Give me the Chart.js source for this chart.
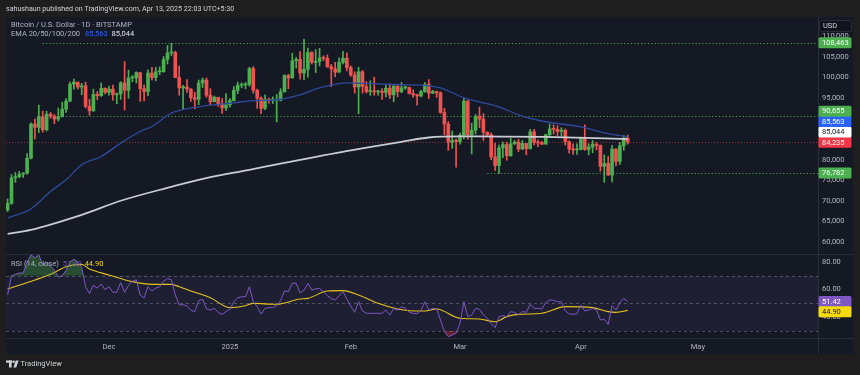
<!DOCTYPE html>
<html><head><meta charset="utf-8">
<script src="https://cdn.jsdelivr.net/npm/chart.js@4.4.1/dist/chart.umd.min.js"></script>
<style>html,body{margin:0;padding:0;background:#1e1e1e;overflow:hidden}canvas{display:block}</style>
</head><body>
<canvas id="c" width="860" height="375"></canvas>
<script>
// ---------- DATA ----------
const startDate = '2024-11-05';   // first daily candle
const opens = [67800,69400,75600,75900,76500,76700,80400,88700,87900,90500,
 87300,91100,90600,89900,90500,92300,94300,98400,98900,97700,
 98000,93000,91900,95900,95600,97400,96400,97200,95800,96000,
 98700,96900,99900,99900,101200,97300,96600,101100,100000,101400,
 101400,104400,106000,106100,100000,97500,97700,97200,95100,94700,
 98700,99400,95700,94100,95200,93600,92600,93400,94400,96900,
 98100,98200,98300,102200,96900,95000,92500,94700,94500,94500,
 94500,96500,100500,99900,104100,104400,101100,102000,106100,103700,
 103900,104800,104700,102600,102100,101300,103700,104700,102400,100600,
 97700,101400,97800,96600,96600,96500,96500,96400,97400,95800,
 97900,96600,97500,97600,96100,95800,95500,96600,98300,96200,
 96600,96300,91500,88700,84300,84700,84400,86000,94300,86100,
 87200,90600,89900,86700,86100,80700,78600,82900,83700,81000,
 83900,84300,82600,84000,82700,86800,84200,84100,83800,86100,
 87500,87400,86900,87200,84400,82600,82400,82500,85100,82500,
 83100,83800,83500,78400,79100,76300,82600,79600,83400,85300];
const highs = [70500,76400,76900,77200,76900,81500,89000,89900,93300,91800,
 91800,91500,91000,92600,94000,94900,98900,99600,98800,98600,
 98900,94700,97200,96600,98700,97500,97900,98200,96300,99000,
 103900,101800,100500,101400,101300,98200,101900,102500,102500,102600,
 105100,107800,108300,106400,102800,98100,99500,97300,96400,99400,
 99900,99900,97300,95500,95200,94900,96100,94900,97800,98900,
 98700,98800,102500,102700,97200,95300,95800,95000,95300,95900,
 97300,100700,100800,105900,104900,106300,109300,107200,106300,106800,
 107100,105300,105500,103200,103700,104800,106400,106000,102800,101400,
 102500,101700,99000,99200,100100,96900,97300,98300,98500,98100,
 98100,98800,97900,97700,97000,96000,96900,98800,99500,96900,
 96700,96500,92500,89300,87000,85100,86500,95000,94400,88900,
 91000,92800,91200,86800,86500,84000,83600,84300,84300,85200,
 84700,85000,84700,83900,87400,87400,84800,84500,86200,88700,
 88500,88300,87800,87500,84600,83900,83900,85500,88500,83900,
 84700,84200,83600,81200,80800,83500,82700,84200,85900,86000];
const lows = [67400,69200,74500,75600,75700,76500,80200,85100,86600,86700,
 87000,90100,88800,89400,90400,91500,94100,97200,97200,95800,
 92600,90800,91800,94600,95400,96000,95700,94500,93600,94700,
 92100,95000,99000,98700,94200,94300,95600,99400,99200,100700,
 101300,103300,105300,100000,95700,92200,96400,94200,92400,93400,
 97600,95200,93400,94100,93000,91300,92000,92800,94300,96100,
 97500,97300,97900,96200,92500,91200,92200,93800,93700,89200,
 94300,96500,97300,99900,102300,99600,99500,100100,103300,101200,
 102800,104100,102500,97800,100200,101300,103300,101600,100300,96200,
 91200,96200,96200,95700,95700,95700,94700,95300,94900,94100,
 95300,96300,97100,96000,95200,93300,95300,96400,94900,96100,
 95200,91300,86100,82300,82800,78200,83800,85100,85000,81400,
 86300,87800,84700,85700,80000,77400,76600,80500,79900,80800,
 83700,82000,82500,81200,82600,83600,83200,83700,83800,85500,
 86300,85900,85800,83600,81600,81300,81300,82400,82300,81200,
 81700,82400,77200,74500,76200,74600,78500,78900,82300,83800];
const closes = [69400,75600,75900,76500,76700,80400,88700,87900,90500,87300,
 91100,90600,89900,90500,92300,94300,98400,98900,97700,98000,
 93000,91900,95900,95600,97400,96400,97200,95800,96000,98700,
 96900,99900,99900,101200,97300,96600,101100,100000,101400,101400,
 104400,106000,106100,100000,97500,97700,97200,95100,94700,98700,
 99400,95700,94100,95200,93600,92600,93400,94400,96900,98100,
 98200,98300,102200,96900,95000,92500,94700,94500,94500,94500,
 96500,100500,99900,104100,104400,101100,102000,106100,103700,103900,
 104800,104700,102600,102100,101300,103700,104700,102400,100600,97700,
 101400,97800,96600,96600,96500,96500,96400,97400,95800,97900,
 96600,97500,97600,96100,95800,95500,96600,98300,96200,96600,
 96300,91500,88700,84300,84700,84400,86000,94300,86100,87200,
 90600,89900,86700,86100,80700,78600,82900,83700,81000,83900,
 84300,82600,84000,82700,86800,84200,84100,83800,86100,87500,
 87400,86900,87200,84400,82600,82400,82500,85100,82500,83100,
 83800,83500,78400,79100,76300,82600,79600,83400,85300,84235];

// EMA 50 (blue) and EMA 200 (white): day index -> value
const ema50Days = [0,6,11,15,19,24,29,34,37,42,49,58,62,69,75,80,87,94,101,108,111,117,121,126,131,138,147,153,159];
const ema50 = [65800,68080,72290,75130,78780,80800,84060,86880,88100,91350,92890,93860,94350,94600,95810,97510,98730,98490,98250,98000,97510,95080,94110,92890,90950,89250,88030,86570,85563];
const ema200Days = [0,6,19,29,42,49,62,75,88,101,108,116,127,138,148,159];
const ema200 = [62000,62970,66620,70030,73430,75140,77570,80000,82310,84380,85420,85670,85650,85550,85350,85044];

// RSI (14, close), one value per candle
const rsi = [56,70,71,72,72,80,85,83,85,78,
 80,77,74,69,70,74,80,82,80,76,
 62,57,63,61,64,60,62,58,58,65,
 58,63,66,67,56,54,62,59,61,62,
 66,68,67,56,49,49,48,45,44,52,
 53,46,45.2,46.4,43.5,42,44,45.7,51.2,54,
 54.8,54.8,62,51.2,47.6,42.3,46.4,46.9,46.9,48.3,
 52,59,58.5,64.5,64.5,57.5,59.5,64.5,59.6,60.5,
 60.8,58.5,55.5,53.5,52.4,55.5,58.4,53,48,43.5,
 51.2,44.5,42.8,42.8,42.8,42.8,42.8,45.2,41.6,46.4,
 45,47.6,46.5,43.5,42.8,42.5,45,51.2,45.2,46.4,
 45.9,38,29.5,25.9,27.1,28.3,35.5,51.2,40.4,41.6,
 46.4,45.7,41.6,39.2,35.5,32.4,40.4,41.1,40.4,44,
 43.5,41.6,44,43.5,49.3,46.4,46.4,45.9,50.7,52.4,
 52.2,51.2,51.2,44.5,42.5,42,42.5,48.8,44.5,45.2,
 46.4,45.2,38,38.4,34.8,48.3,45.2,50.7,53.6,51.42];
// RSI-based moving average (yellow): day index -> value
const rsiMaDays = [0,7,11,15,19,21,26,32,37,42,44,48,52,57,61,63,69,75,77,82,86,90,95,100,103,107,110,116,121,125,128,131,137,143,150,154,156,159];
const rsiMa = [60.4,66.9,71,76.5,78.2,74.8,70.5,65.7,63.7,63.7,62,58,54.1,46.9,48.3,50,49.3,53.1,53.6,58.9,59.2,56,50,45.9,44.7,44.5,45.9,39.2,38.7,36.7,40.4,42,42.8,47.6,46.9,44,43.5,44.9];

// axis ticks
const timeTickDates = ['2024-12-01','2025-01-01','2025-02-01','2025-03-01','2025-04-01','2025-05-01'];
const timeTickLabels = ['Dec','2025','Feb','Mar','Apr','May'];
const priceTicks = [60000,65000,70000,75000,80000,85000,90000,95000,100000,105000,110000];
const rsiTicks = [40,60,80];

// drawn horizontal levels (value, drawn from date)
const levelValues = [108463, 90655, 76782];
const levelFromDates = ['2024-11-14','2024-11-20','2025-03-08'];

const lastClose = 84235, lastEma50 = 85563, lastEma200 = 85044, lastRsi = 51.42, lastRsiMa = 44.90;

// ---------- CHART ----------
const UP = '#4caf50', DOWN = '#ef5350';
const FONT = 'Roboto, "Liberation Sans", sans-serif';
const dayIndex = d => Math.round((Date.parse(d + 'T00:00:00Z') - Date.parse(startDate + 'T00:00:00Z')) / 86400000);
const fmt = v => v.toLocaleString('en-US');

const candleColors = closes.map((c, i) => c >= opens[i] ? UP : DOWN);
const bodyData = closes.map((c, i) => ({x: i, y: [opens[i], c]}));
const wickData = closes.map((c, i) => ({x: i, y: [lows[i], highs[i]]}));
const pts = (days, vals) => days.map((d, i) => ({x: d, y: vals[i]}));
const rsiData = rsi.map((v, i) => ({x: i, y: v}));

function roundRect(ctx, x, y, w, h, r) {
  ctx.beginPath();
  ctx.moveTo(x + r, y); ctx.lineTo(x + w - r, y); ctx.quadraticCurveTo(x + w, y, x + w, y + r);
  ctx.lineTo(x + w, y + h - r); ctx.quadraticCurveTo(x + w, y + h, x + w - r, y + h);
  ctx.lineTo(x + r, y + h); ctx.quadraticCurveTo(x, y + h, x, y + h - r);
  ctx.lineTo(x, y + r); ctx.quadraticCurveTo(x, y, x + r, y); ctx.closePath();
}

function placeLabels(items, scale, gap, dir) {
  items.forEach(it => it.py = scale.getPixelForValue(it.value));
  items.sort((a, b) => dir === 'up' ? b.py - a.py : a.py - b.py);
  let prev = null;
  items.forEach(it => {
    let y = it.py;
    if (prev !== null) y = dir === 'up' ? Math.min(y, prev - gap) : Math.max(y, prev + gap);
    it.y = y; prev = y;
  });
  return items;
}

const decor = {
  id: 'decor',
  beforeDraw(chart) {
    const ctx = chart.ctx;
    ctx.save();
    ctx.fillStyle = '#1e1e1e';
    ctx.fillRect(0, 0, chart.width, chart.height);
    ctx.fillStyle = '#151924';
    ctx.fillRect(6, 17, 847, 337);
    ctx.restore();
  },
  beforeDatasetsDraw(chart) {
    const ctx = chart.ctx, a = chart.chartArea;
    const yP = chart.scales.y, yR = chart.scales.yR, x = chart.scales.x;
    ctx.save();
    // RSI band
    const y70 = yR.getPixelForValue(70), y30 = yR.getPixelForValue(30), y50 = yR.getPixelForValue(50);
    ctx.fillStyle = 'rgba(126,87,194,0.10)';
    ctx.fillRect(a.left, y70, a.right - a.left, y30 - y70);
    ctx.strokeStyle = 'rgba(120,123,134,0.55)';
    ctx.lineWidth = 1;
    ctx.setLineDash([3, 3]);
    [y70, y50, y30].forEach(y => { ctx.beginPath(); ctx.moveTo(a.left, Math.round(y) + 0.5); ctx.lineTo(a.right, Math.round(y) + 0.5); ctx.stroke(); });
    // level lines
    ctx.strokeStyle = 'rgba(76,175,80,0.9)';
    ctx.setLineDash([1.2, 2.2]);
    levelValues.forEach((v, i) => {
      const y = Math.round(yP.getPixelForValue(v)) + 0.5;
      ctx.beginPath(); ctx.moveTo(x.getPixelForValue(dayIndex(levelFromDates[i])), y); ctx.lineTo(a.right, y); ctx.stroke();
    });
    // last price line
    ctx.strokeStyle = 'rgba(242,54,69,0.6)';
    ctx.setLineDash([1, 2]);
    const yl = Math.round(yP.getPixelForValue(lastClose)) + 0.5;
    ctx.beginPath(); ctx.moveTo(a.left, yl); ctx.lineTo(a.right, yl); ctx.stroke();
    ctx.setLineDash([]);
    // separators
    ctx.strokeStyle = '#2a2e39';
    ctx.beginPath();
    ctx.moveTo(a.left, Math.round(yP.bottom) + 0.5); ctx.lineTo(853, Math.round(yP.bottom) + 0.5);
    ctx.moveTo(a.left, a.bottom + 0.5); ctx.lineTo(853, a.bottom + 0.5);
    ctx.moveTo(a.right + 0.5, 17); ctx.lineTo(a.right + 0.5, 354);
    ctx.stroke();
    ctx.restore();
  },
  afterDraw(chart) {
    const ctx = chart.ctx;
    const yP = chart.scales.y, yR = chart.scales.yR;
    ctx.save();
    ctx.textBaseline = 'middle';
    // header
    ctx.font = '7.1px ' + FONT;
    ctx.fillStyle = '#d1d4dc';
    ctx.fillText('sahushaun published on TradingView.com, Apr 13, 2025 22:03 UTC+5:30', 6, 9);
    ctx.font = '7.5px ' + FONT;
    // legend
    ctx.fillStyle = '#b2b5be';
    ctx.fillText('Bitcoin / U.S. Dollar · 1D · BITSTAMP', 11, 25);
    let lx = 11;
    ctx.fillText('EMA 20/50/100/200', lx, 34.5);
    lx += ctx.measureText('EMA 20/50/100/200').width + 5;
    ctx.fillStyle = '#2962ff'; ctx.fillText(fmt(lastEma50), lx, 34.5);
    lx += ctx.measureText(fmt(lastEma50)).width + 4;
    ctx.fillStyle = '#e0e3eb'; ctx.fillText(fmt(lastEma200), lx, 34.5);
    // RSI legend
    ctx.fillStyle = '#b2b5be';
    ctx.fillText('RSI (14, close)', 11, 264);
    lx = 11 + ctx.measureText('RSI (14, close)').width + 4;
    ctx.fillStyle = 'rgba(126,87,194,0.9)'; ctx.fillText(lastRsi.toFixed(2), lx, 264);
    lx += ctx.measureText(lastRsi.toFixed(2)).width + 3;
    ctx.fillStyle = '#f5d90a'; ctx.fillText(lastRsiMa.toFixed(2), lx, 264);

    // USD box
    ctx.fillStyle = '#10131b';
    roundRect(ctx, 819.5, 20.5, 32, 11, 2); ctx.fill();
    ctx.strokeStyle = '#2a2e39'; ctx.stroke();
    ctx.fillStyle = '#d1d4dc'; ctx.fillText('USD', 823, 26.2);

    // price labels
    const pl = placeLabels([
      {value: levelValues[0], bg: UP, fg: '#ffffff'},
      {value: levelValues[1], bg: UP, fg: '#ffffff'},
      {value: lastEma50, bg: '#2962ff', fg: '#ffffff'},
      {value: lastEma200, bg: '#ffffff', fg: '#131722'},
      {value: lastClose, bg: '#f23645', fg: '#ffffff'},
      {value: levelValues[2], bg: UP, fg: '#ffffff'}
    ], yP, 10.4, 'up');
    const rl = placeLabels([
      {value: lastRsi, bg: '#7e57c2', fg: '#ffffff', dec: 2},
      {value: lastRsiMa, bg: '#f5d90a', fg: '#131722', dec: 2}
    ], yR, 10.4, 'down');
    pl.concat(rl).forEach(l => {
      ctx.fillStyle = l.bg;
      roundRect(ctx, 818.5, l.y - 5.5, 33, 11, 1.5); ctx.fill();
      ctx.fillStyle = l.fg;
      ctx.fillText(l.dec ? l.value.toFixed(2) : fmt(l.value), 822, l.y + 0.3);
    });

    // TradingView logo
    ctx.fillStyle = '#d1d4dc';
    ctx.fillRect(6, 360.5, 6, 2.2);
    ctx.fillRect(9, 360.5, 2.6, 7);
    ctx.beginPath(); ctx.arc(13.6, 361.8, 1.3, 0, Math.PI * 2); ctx.fill();
    ctx.beginPath(); ctx.moveTo(15.8, 360.5); ctx.lineTo(18.6, 360.5); ctx.lineTo(16.2, 367.5); ctx.lineTo(13.4, 367.5); ctx.closePath(); ctx.fill();
    ctx.fillText('TradingView', 20.5, 364.5);
    ctx.restore();
  }
};

new Chart(document.getElementById('c'), {
  type: 'bar',
  data: {
    datasets: [
      {type: 'line', label: 'EMA 200', data: pts(ema200Days, ema200), yAxisID: 'y', borderColor: '#c9ccd3', borderWidth: 1.8, pointRadius: 0, cubicInterpolationMode: 'monotone', fill: false, order: 0},
      {type: 'line', label: 'EMA 50', data: pts(ema50Days, ema50), yAxisID: 'y', borderColor: '#2e4a9e', borderWidth: 1.3, pointRadius: 0, cubicInterpolationMode: 'monotone', fill: false, order: 0},
      {label: 'bodies', data: bodyData, yAxisID: 'y', backgroundColor: candleColors, barThickness: 3, minBarLength: 1, grouped: false, borderWidth: 0, order: 1},
      {label: 'wicks', data: wickData, yAxisID: 'y', backgroundColor: candleColors, barThickness: 1, grouped: false, borderWidth: 0, order: 2},
      {type: 'line', label: 'RSI', data: rsiData, yAxisID: 'yR', borderColor: '#7e57c2', borderWidth: 1, pointRadius: 0, tension: 0, fill: {target: {value: 70}, above: 'rgba(76,175,80,0.35)', below: 'rgba(0,0,0,0)'}, order: 0},
      {type: 'line', label: 'RSI low', data: rsiData, yAxisID: 'yR', borderColor: 'rgba(0,0,0,0)', borderWidth: 0, pointRadius: 0, tension: 0, fill: {target: {value: 30}, above: 'rgba(0,0,0,0)', below: 'rgba(242,54,69,0.35)'}, order: 0},
      {type: 'line', label: 'RSI MA', data: pts(rsiMaDays, rsiMa), yAxisID: 'yR', borderColor: '#e6c21a', borderWidth: 1.1, pointRadius: 0, cubicInterpolationMode: 'monotone', fill: false, order: 0}
    ]
  },
  options: {
    responsive: false,
    devicePixelRatio: 1,
    animation: false,
    events: [],
    layout: {padding: {left: 6, right: 7, top: 17, bottom: 21}},
    plugins: {legend: {display: false}, tooltip: {enabled: false}},
    scales: {
      x: {
        type: 'linear', offset: false, min: -0.41, max: 207.8,
        grid: {display: false, drawTicks: false}, border: {display: false},
        afterBuildTicks: s => { s.ticks = timeTickDates.map(d => ({value: dayIndex(d)})); },
        afterFit: s => { s.height = 16; },
        ticks: {
          autoSkip: false, maxRotation: 0, padding: 5, color: '#b2b5be',
          font: {family: FONT, size: 7.5},
          callback: (v, i) => timeTickLabels[i]
        }
      },
      y: {
        type: 'linear', position: 'right', stack: 'panes', stackWeight: 237,
        min: 57081, max: 114730,
        grid: {display: false, drawTicks: false}, border: {display: false},
        afterBuildTicks: s => { s.ticks = priceTicks.map(v => ({value: v})); },
        afterFit: s => { s.width = 35; },
        ticks: {autoSkip: false, padding: 4, color: '#b2b5be', font: {family: FONT, size: 7.5}, callback: v => fmt(v)}
      },
      yR: {
        type: 'linear', position: 'right', stack: 'panes', stackWeight: 84,
        min: 24.94, max: 85.7,
        grid: {display: false, drawTicks: false}, border: {display: false},
        afterBuildTicks: s => { s.ticks = rsiTicks.map(v => ({value: v})); },
        afterFit: s => { s.width = 35; },
        ticks: {autoSkip: false, padding: 4, color: '#b2b5be', font: {family: FONT, size: 7.5}, callback: v => v.toFixed(2)}
      }
    }
  },
  plugins: [decor]
});
</script>
</body></html>
